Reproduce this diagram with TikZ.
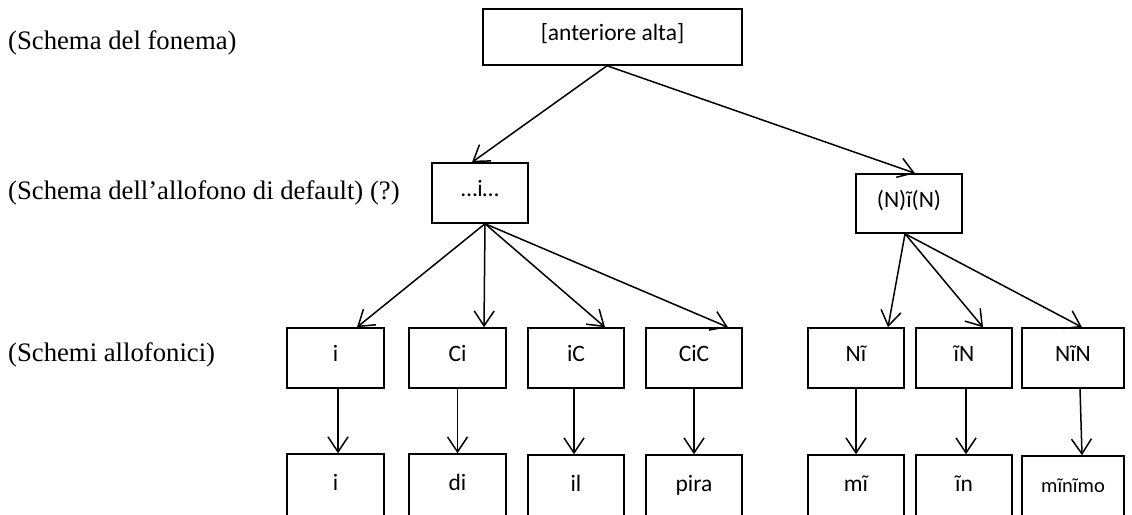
\documentclass[tikz,border=0pt]{standalone}
\usepackage{fontspec}
\setmainfont{Liberation Serif}
\newfontfamily\boxfont{Carlito}
\usetikzlibrary{arrows.meta}

\tikzset{
  box/.style={draw, line width=1.5pt, minimum height=60pt, inner sep=0pt,
    font=\boxfont\fontsize{23.5pt}{26pt}\selectfont,
    text height=16pt, text depth=9pt},
  wide/.style={minimum width=97pt},
  leaf/.style={box, wide, minimum height=66pt},
  side/.style={anchor=west, inner sep=0pt, font=\fontsize{26.7pt}{30pt}\selectfont},
  link/.style={line width=1.5pt,
    -{Straight Barb[length=15pt,width=20pt,line width=1.5pt]}}
}

\begin{document}
\begin{tikzpicture}[x=1pt, y=-1pt]
  \useasboundingbox (0,0) rectangle (1132,514);
  \clip (0,0) rectangle (1132,514);

  % level labels
  \node[side] (l1) at (8,43)  {(Schema del fonema)};
  \node[side] (l2) at (8,193) {(Schema dell’allofono di default) (?)};
  \node[side] (l3) at (8,355) {(Schemi allofonici)};

  % phoneme
  \node[box, minimum width=259pt, minimum height=56pt] (top) at (612.5,37) {[anteriore alta]};

  % default allophone schemas
  \node[box, minimum width=96pt] (def)  at (480,193) {…i…};
  \node[box, minimum width=106pt, minimum height=59pt] (nas) at (909,203.5) {(N)ĩ(N)};

  % allophonic schemas
  \node[box, wide] (s1) at (335.5,358) {i};
  \node[box, wide] (s2) at (457.5,358) {Ci};
  \node[box, minimum width=96pt] (s3) at (576,358) {iC};
  \node[box, minimum width=96pt] (s4) at (694,358) {CiC};
  \node[box, minimum width=96pt] (s5) at (856,358) {Nĩ};
  \node[box, minimum width=96pt] (s6) at (964,358) {ĩN};
  \node[box, minimum width=102pt] (s7) at (1073,358) {NĩN};

  % examples
  \node[leaf] (e1) at (335.5,487) {i};
  \node[leaf] (e2) at (457.5,487) {di};
  \node[leaf, minimum width=96pt] (e3) at (576,488) {il};
  \node[leaf, minimum width=96pt] (e4) at (694,488) {pira};
  \node[leaf, minimum width=96pt] (e5) at (856,488) {mĩ};
  \node[leaf, minimum width=96pt] (e6) at (964,488) {ĩn};
  \node[leaf, minimum width=102pt, font=\boxfont\fontsize{20.5pt}{23pt}\selectfont] (e7) at (1073,489) {mĩnĩmo};

  % phoneme to default schemas
  \draw[link] ([xshift=-5.5pt]top.south) -- ([xshift=-8pt]def.north);
  \draw[link] ([xshift=-5.5pt]top.south) -- ([xshift=6pt]nas.north);

  % default schemas to allophonic schemas
  \draw[link] ([xshift=5pt]def.south) -- ([xshift=21.5pt]s1.north);
  \draw[link] ([xshift=5pt]def.south) -- ([xshift=26.5pt]s2.north);
  \draw[link] ([xshift=5pt]def.south) -- ([xshift=29pt]s3.north);
  \draw[link] ([xshift=5pt]def.south) -- ([xshift=34pt]s4.north);
  \draw[link] ([xshift=-4pt]nas.south) -- ([xshift=32pt]s5.north);
  \draw[link] ([xshift=-4pt]nas.south) -- ([xshift=19pt]s6.north);
  \draw[link] ([xshift=-4pt]nas.south) -- ([xshift=9pt]s7.north);

  % allophonic schemas to examples
  \draw[link] ([xshift=2.5pt]s1.south) -- ([xshift=2.5pt]e1.north);
  \draw[link] (s2.south) -- (e2.north);
  \draw[link] ([xshift=-2pt]s3.south) -- ([xshift=-2pt]e3.north);
  \draw[link] (s4.south) -- (e4.north);
  \draw[link] (s5.south) -- (e5.north);
  \draw[link] ([xshift=2pt]s6.south) -- ([xshift=2pt]e6.north);
  \draw[link] ([xshift=7pt]s7.south) -- ([xshift=9pt]e7.north);
\end{tikzpicture}
\end{document}
